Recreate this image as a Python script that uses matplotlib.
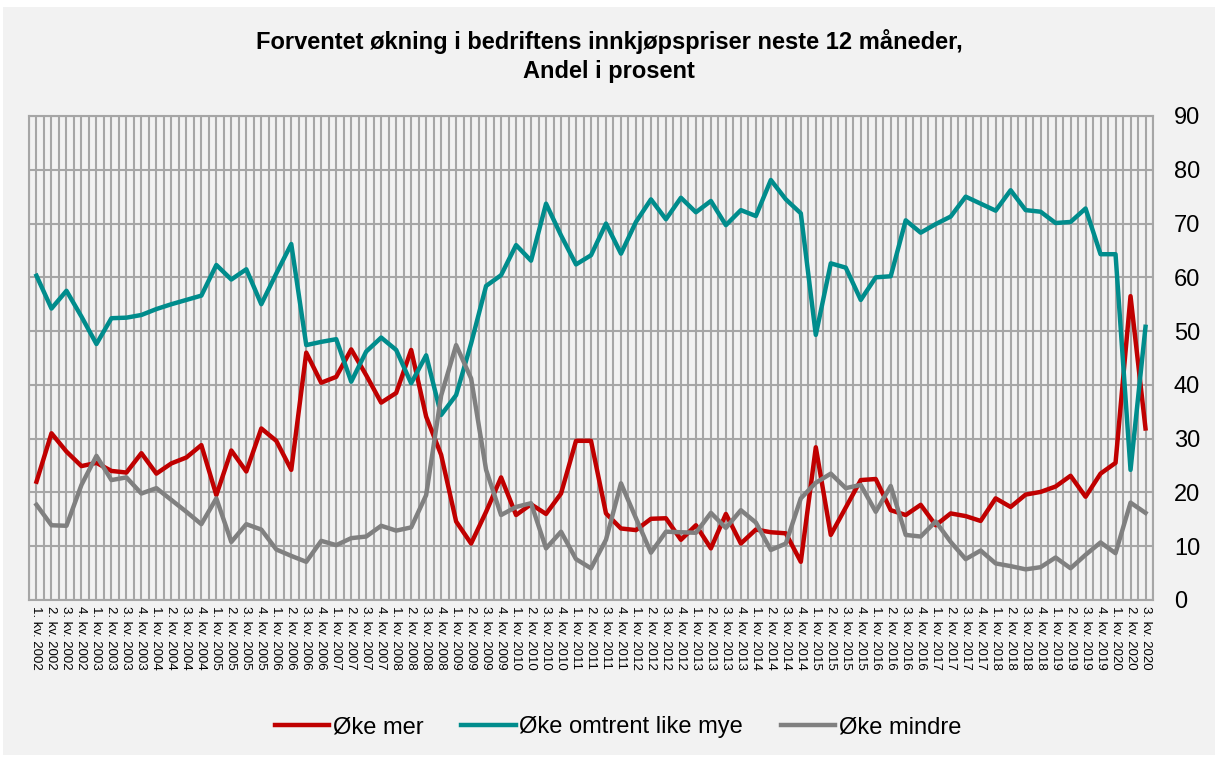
import numpy as np
import matplotlib.pyplot as plt
from matplotlib.patches import Rectangle

plt.rcParams['font.family'] = ['Liberation Sans', 'DejaVu Sans']

quarters = [f"{q}. kv. {y}" for y in range(2002, 2021) for q in range(1, 5)][:75]

oke_mer = [22.0, 31.0, 27.6, 24.9, 25.5, 24.0, 23.7, 27.3, 23.5, 25.4,
           26.5, 28.8, 19.5, 27.8, 23.9, 31.9, 29.6, 24.2, 46.0, 40.4,
           41.5, 46.6, 41.8, 36.7, 38.5, 46.5, 34.1, 27.0, 14.6, 10.5,
           16.4, 22.8, 15.8, 17.8, 16.0, 19.8, 29.6, 29.6, 16.1, 13.3,
           13.0, 15.1, 15.2, 11.2, 13.9, 9.6, 16.0, 10.5, 13.1, 12.6,
           12.4, 7.1, 28.4, 12.1, 17.2, 22.3, 22.5, 16.7, 15.8, 17.7,
           13.9, 16.1, 15.6, 14.7, 18.9, 17.3, 19.6, 20.1, 21.1, 23.1,
           19.2, 23.5, 25.5, 56.5, 31.9]

oke_likt = [60.3, 54.2, 57.5, 52.7, 47.6, 52.4, 52.5, 53.0, 54.1, 55.0,
            55.8, 56.6, 62.3, 59.6, 61.5, 55.0, 60.7, 66.2, 47.4, 48.0,
            48.5, 40.6, 46.2, 48.8, 46.5, 40.3, 45.5, 34.4, 38.1, 47.7,
            58.4, 60.4, 66.0, 63.1, 73.7, 67.8, 62.4, 64.1, 70.0, 64.4,
            70.3, 74.5, 70.8, 74.8, 72.1, 74.2, 69.7, 72.5, 71.4, 78.1,
            74.5, 71.9, 49.3, 62.6, 61.8, 55.8, 60.0, 60.2, 70.6, 68.3,
            69.9, 71.3, 75.0, 73.7, 72.4, 76.2, 72.5, 72.2, 70.1, 70.3,
            72.8, 64.3, 64.3, 24.2, 50.8]

oke_mindre = [17.7, 13.9, 13.8, 21.4, 26.8, 22.3, 22.8, 19.8, 20.8, 18.6,
              16.4, 14.1, 18.9, 10.8, 14.1, 13.1, 9.4, 8.2, 7.1, 11.0,
              10.2, 11.5, 11.8, 13.8, 12.9, 13.5, 19.5, 38.0, 47.4, 41.2,
              24.2, 15.8, 17.3, 18.0, 9.6, 12.7, 7.6, 5.9, 11.2, 21.7,
              15.2, 8.8, 12.7, 12.6, 12.5, 16.2, 13.4, 16.7, 14.4, 9.3,
              10.5, 18.9, 21.8, 23.5, 20.8, 21.4, 16.4, 21.2, 12.1, 11.8,
              14.6, 10.8, 7.6, 9.2, 6.8, 6.3, 5.7, 6.1, 7.9, 5.9,
              8.4, 10.7, 8.7, 18.1, 16.2]

bg = '#F2F2F2'
grid_col = '#A6A6A6'

fig = plt.figure(figsize=(12.18, 7.58), dpi=100, facecolor='white')
fig.patches.append(Rectangle((3 / 1218, 3 / 758), 1212 / 1218, 748 / 758,
                             transform=fig.transFigure, facecolor=bg,
                             edgecolor='none', zorder=-10))

ax = fig.add_axes([29 / 1218, 1 - 600 / 758, 1124 / 1218, 484 / 758])
ax.set_facecolor(bg)

x = np.arange(len(quarters))
ax.plot(x, oke_mer, color='#C00000', lw=3.2, label='Øke mer', zorder=3)
ax.plot(x, oke_likt, color='#008C8C', lw=3.2, label='Øke omtrent like mye', zorder=3)
ax.plot(x, oke_mindre, color='#808080', lw=3.2, label='Øke mindre', zorder=3)

ax.set_xlim(-0.5, len(quarters) - 0.5)
ax.set_ylim(0, 90)
ax.set_yticks(np.arange(0, 91, 10))
ax.yaxis.tick_right()
ax.tick_params(axis='y', length=0, pad=15, labelsize=17)

ax.set_xticks(x)
ax.set_xticklabels(quarters, rotation=-90, fontsize=9.5, va='top', ha='center')
ax.set_xticks(np.arange(-0.5, len(quarters), 1.0), minor=True)
ax.tick_params(axis='x', which='both', length=0, pad=4)

ax.grid(True, which='major', axis='both', color=grid_col, lw=1.5)
ax.grid(True, which='minor', axis='x', color=grid_col, lw=1.5)
ax.set_axisbelow(True)
for s in ax.spines.values():
    s.set_color(grid_col)
    s.set_linewidth(1.5)

fig.text(0.5, 1 - 56 / 758,
         'Forventet økning i bedriftens innkjøpspriser neste 12 måneder,\nAndel i prosent',
         ha='center', va='center', fontsize=17, fontweight='bold',
         linespacing=1.35)

fig.legend(loc='center', bbox_to_anchor=(618 / 1218, 1 - 727 / 758), ncol=3,
           frameon=False, fontsize=17, handlelength=2.3, handletextpad=0.15,
           columnspacing=1.6)

fig.savefig('out.png', dpi=100, facecolor=fig.get_facecolor())
